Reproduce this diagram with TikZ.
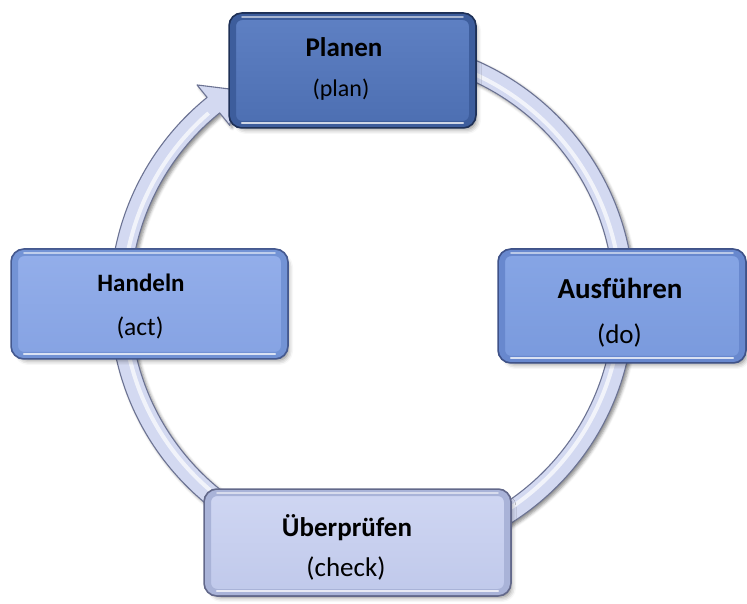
\documentclass[tikz,border=0pt]{standalone}
\usepackage{fontspec}
\setmainfont{Carlito}
\usetikzlibrary{calc,shadows.blur}

% colour sets: edge, band, top of fill, bottom of fill
\definecolor{planedge}{HTML}{1E3056}
\definecolor{planband}{HTML}{3D5D9C}
\definecolor{plantop}{HTML}{5E80C3}
\definecolor{planbot}{HTML}{4D6FB2}
\definecolor{actedge}{HTML}{45598F}
\definecolor{actband}{HTML}{7393D5}
\definecolor{acttop}{HTML}{93AEEA}
\definecolor{actbot}{HTML}{86A3E3}
\definecolor{doedge}{HTML}{3F5288}
\definecolor{doband}{HTML}{6888CE}
\definecolor{dotop}{HTML}{86A5E5}
\definecolor{dobot}{HTML}{7A9ADD}
\definecolor{chkedge}{HTML}{62688A}
\definecolor{chkband}{HTML}{A9B3D8}
\definecolor{chktop}{HTML}{CFD6F2}
\definecolor{chkbot}{HTML}{C0C9EB}
\definecolor{ringfill}{HTML}{D3D9F1}
\definecolor{ringedge}{HTML}{6C7393}

\tikzset{
  pdcabox/.style n args={4}{
    rectangle, rounded corners=9pt, line width=6pt,
    draw=#2, top color=#3, bottom color=#4,
    blur shadow={shadow xshift=4pt, shadow yshift=-5pt,
                 shadow blur radius=5pt, shadow opacity=50},
    preaction={draw=#1, line width=9.5pt}},
  hitop/.style={white, opacity=0.55, line width=1.6pt, line cap=round},
  hibot/.style={white, opacity=0.75, line width=2.4pt, line cap=round},
  ttl/.style={font=\bfseries\fontsize{#1}{#1}\selectfont, text=black, inner sep=0pt},
  sub/.style={font=\fontsize{#1}{#1}\selectfont, text=black, inner sep=0pt},
  ringarrow/.style={fill=ringfill, draw=ringedge, line width=1.1pt, line join=round,
    blur shadow={shadow xshift=2.5pt, shadow yshift=-2.5pt,
                 shadow blur radius=3pt, shadow opacity=45}},
  ringshine/.style={white, opacity=0.7, line width=4pt},
}

\begin{document}
\begin{tikzpicture}[x=1pt,y=1pt]
\useasboundingbox (0,0) rectangle (747,603);
\coordinate (ctr) at (372,302);

% the cycle arrow, running clockwise and ending at the top box
\path[ringarrow]
  ($(ctr)+(90:262)$) arc[start angle=90, end angle=-231, radius=262]
  -- ($(ctr)+(-231:278)$) -- ($(ctr)+(-237:252)$) -- ($(ctr)+(-231:226)$)
  -- ($(ctr)+(-231:242)$) arc[start angle=-231, end angle=90, radius=242]
  -- cycle;
\draw[ringshine] ($(ctr)+(90:249)$) arc[start angle=90, end angle=-229, radius=249];

% the four steps
\node[pdcabox={planedge}{planband}{plantop}{planbot},
      minimum width=239, minimum height=107] (plan) at (352.5,532.5) {};
\node[pdcabox={doedge}{doband}{dotop}{dobot},
      minimum width=240, minimum height=106] (do) at (622,297) {};
\node[pdcabox={chkedge}{chkband}{chktop}{chkbot},
      minimum width=299, minimum height=99] (check) at (357.5,60.5) {};
\node[pdcabox={actedge}{actband}{acttop}{actbot},
      minimum width=269, minimum height=102] (act) at (149.5,299) {};

% glossy edges
\foreach \b in {plan,do,check,act}{
  \draw[hitop] ([xshift=12,yshift=-3]\b.north west) -- ([xshift=-12,yshift=-3]\b.north east);
  \draw[hibot] ([xshift=12,yshift=4]\b.south west) -- ([xshift=-12,yshift=4]\b.south east);
}

% labels
\node[ttl=27] (plan-t) at (344,556) {Planen};
\node[sub=24] (plan-s) at (341,513) {(plan)};
\node[ttl=29] (do-t) at (620,315) {Ausführen};
\node[sub=27] (do-s) at (619.5,268) {(do)};
\node[ttl=27] (check-t) at (347,75) {Überprüfen};
\node[sub=27] (check-s) at (346,35) {(check)};
\node[ttl=25] (act-t) at (141,320) {Handeln};
\node[sub=25.5] (act-s) at (140,275) {(act)};
\end{tikzpicture}
\end{document}
